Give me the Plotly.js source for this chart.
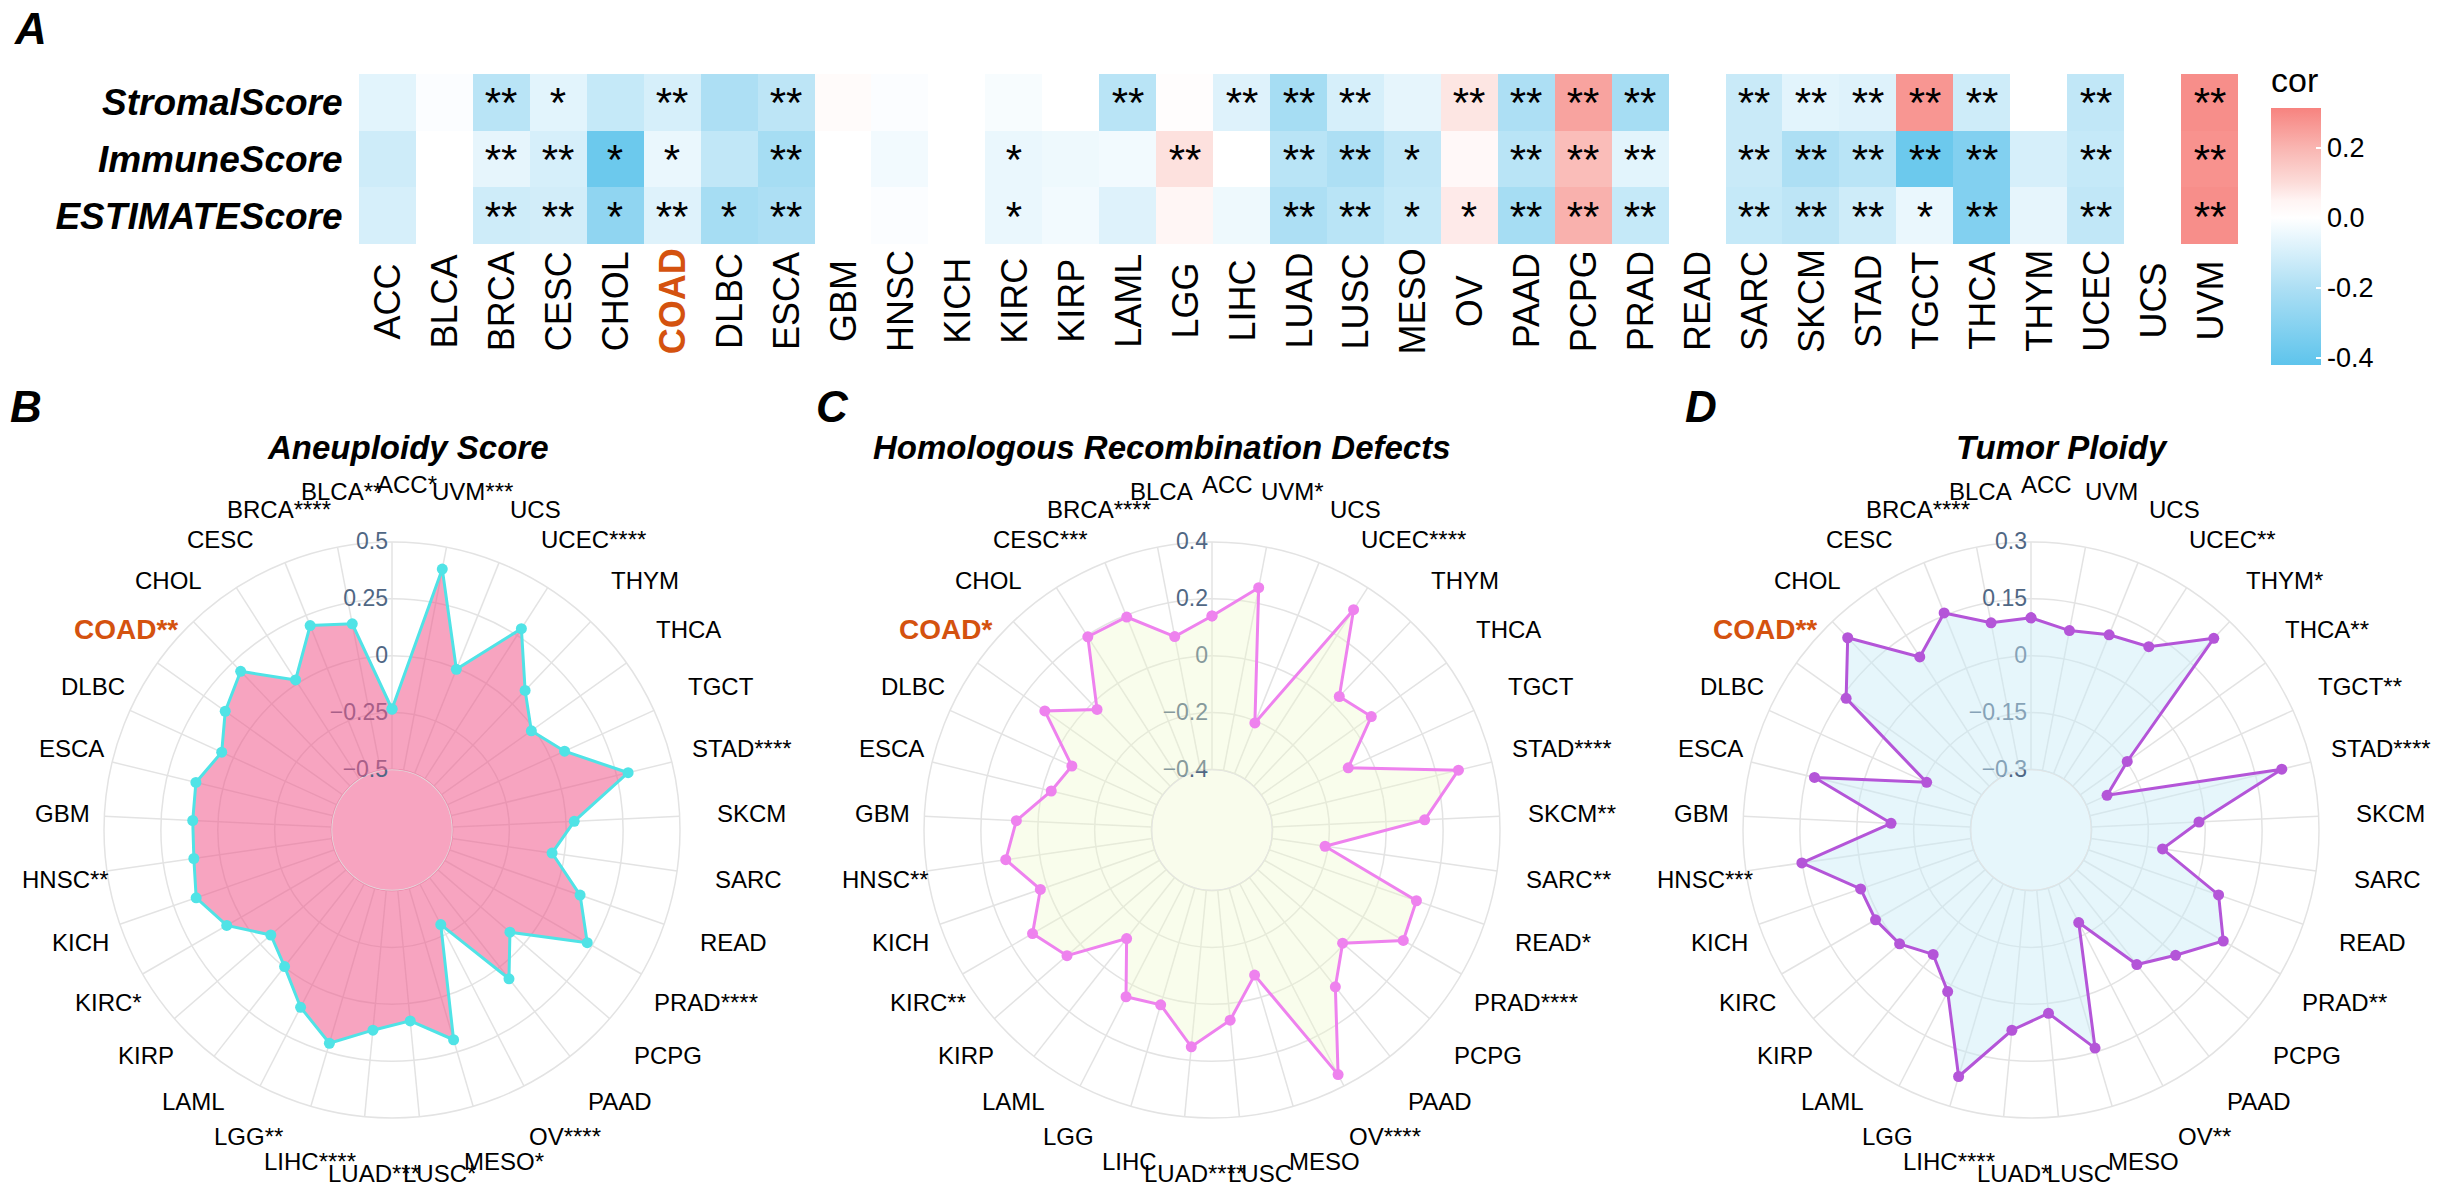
<!DOCTYPE html>
<html>
<head>
<meta charset="utf-8">
<script src="https://cdn.plot.ly/plotly-3.0.1.min.js"></script>
<style>
html,body{margin:0;padding:0;background:#fff;}
#chart{width:2438px;height:1198px;}
</style>
</head>
<body>
<div id="chart"></div>
<script>
// ---------------- DATA ----------------
const cancers = ["ACC","BLCA","BRCA","CESC","CHOL","COAD","DLBC","ESCA","GBM","HNSC","KICH","KIRC","KIRP","LAML","LGG","LIHC","LUAD","LUSC","MESO","OV","PAAD","PCPG","PRAD","READ","SARC","SKCM","STAD","TGCT","THCA","THYM","UCEC","UCS","UVM"];
const scoreNames = ["StromalScore","ImmuneScore","ESTIMATEScore"];

const stromalCor  = [-0.07,-0.01,-0.17,-0.07,-0.14,-0.10,-0.20,-0.16, 0.02,-0.01, 0.00,-0.02, 0.00,-0.17, 0.01,-0.08,-0.22,-0.10,-0.06, 0.08,-0.20, 0.24,-0.22, 0.00,-0.13,-0.07,-0.08, 0.27,-0.12, 0.00,-0.15, 0.00, 0.29];
const immuneCor   = [-0.12, 0.00,-0.06,-0.10,-0.38,-0.05,-0.15,-0.22, 0.00,-0.03, 0.00,-0.05,-0.04,-0.03, 0.09, 0.00,-0.17,-0.20,-0.15, 0.03,-0.17, 0.18,-0.07, 0.00,-0.13,-0.20,-0.17,-0.38,-0.32,-0.10,-0.14, 0.00, 0.28];
const estimateCor = [-0.10, 0.00,-0.12,-0.11,-0.28,-0.08,-0.22,-0.20, 0.00,-0.01, 0.00,-0.05,-0.03,-0.08, 0.04,-0.04,-0.20,-0.17,-0.14, 0.07,-0.22, 0.21,-0.14, 0.00,-0.14,-0.16,-0.12,-0.05,-0.32,-0.06,-0.15, 0.00, 0.29];

const stromalSig  = ["","","**","*","","**","","**","","","","","","**","","**","**","**","","**","**","**","**","","**","**","**","**","**","","**","","**"];
const immuneSig   = ["","","**","**","*","*","","**","","","","*","","","**","","**","**","*","","**","**","**","","**","**","**","**","**","","**","","**"];
const estimateSig = ["","","**","**","*","**","*","**","","","","*","","","","","**","**","*","*","**","**","**","","**","**","**","*","**","","**","","**"];

const corTickVals = [-0.4,-0.2,0.0,0.2];
const corTickText = ["-0.4","-0.2","0.0","0.2"];

// Radar B : Aneuploidy Score
const aneuploidy = [-0.234,0.157,0.202,0.018,0.198,0.134,0.057,0.121,0.111,0.114,0.145,0.073,-0.061,-0.002,0.111,0.211,0.118,0.077,0.195,-0.298,0.066,-0.080,0.225,0.109,-0.055,0.036,0.302,0.068,-0.014,0.082,0.286,-0.005,0.402];
const aneuploidyLabels = ["ACC*","BLCA**","BRCA****","CESC","CHOL","COAD**","DLBC","ESCA","GBM","HNSC**","KICH","KIRC*","KIRP","LAML","LGG**","LIHC****","LUAD***","LUSC*","MESO*","OV****","PAAD","PCPG","PRAD****","READ","SARC","SKCM","STAD****","TGCT","THCA","THYM","UCEC****","UCS","UVM***"];
const aneuploidyTicks = [-0.5,-0.25,0,0.25,0.5];

// Radar C : Homologous Recombination Defects
const hrd = [0.140,0.080,0.194,0.195,-0.027,0.109,-0.071,-0.031,0.076,0.120,0.026,0.116,0.062,-0.127,0.047,0.028,0.153,0.059,-0.081,0.355,0.089,-0.005,0.164,0.148,-0.211,0.136,0.279,-0.086,0.075,0.036,0.308,-0.207,0.255];
const hrdLabels = ["ACC","BLCA","BRCA****","CESC***","CHOL","COAD*","DLBC","ESCA","GBM","HNSC**","KICH","KIRC**","KIRP","LAML","LGG","LIHC","LUAD****","LUSC","MESO","OV****","PAAD","PCPG","PRAD****","READ*","SARC**","SKCM**","STAD****","TGCT","THCA","THYM","UCEC****","UCS","UVM*"];
const hrdTicks = [-0.4,-0.2,0,0.2,0.4];

// Radar D : Tumor Ploidy
const ploidy = [0.100,0.097,0.157,0.083,0.241,0.139,-0.157,0.128,-0.090,0.151,0.016,0.014,-0.001,-0.042,0.020,0.218,0.071,0.026,0.140,-0.185,-0.008,0.045,0.126,0.064,-0.109,-0.016,0.221,-0.239,-0.148,0.239,0.115,0.095,0.076];
const ploidyLabels = ["ACC","BLCA","BRCA****","CESC","CHOL","COAD**","DLBC","ESCA","GBM","HNSC***","KICH","KIRC","KIRP","LAML","LGG","LIHC****","LUAD*","LUSC","MESO","OV**","PAAD","PCPG","PRAD**","READ","SARC","SKCM","STAD****","TGCT**","THCA**","THYM*","UCEC**","UCS","UVM"];
const ploidyTicks = [-0.3,-0.15,0,0.15,0.3];

const highlight = "COAD";

// ---------------- STYLE / LAYOUT ----------------
const W = 2438, H = 1198;
const FONT = "Liberation Sans, Arial, Helvetica, sans-serif";
const ORANGE = "#D4520F";
const GRID = "#E3E3E3";
const px = v => v / W;
const py = v => 1 - v / H;

const zmin = -0.42, zmax = 0.314;
function pos(v){ return (v - zmin) / (zmax - zmin); }
const colorscale = [
  [pos(-0.42), "#5EC4EC"],
  [pos(-0.2),  "#ADDFF4"],
  [pos(-0.05), "#EAF7FD"],
  [pos(0.0),   "#FFFFFF"],
  [pos(0.05),  "#FFF4F3"],
  [pos(0.1),   "#FCDCD9"],
  [pos(0.2),   "#F9B5B1"],
  [pos(0.314), "#F7837F"]
];

const heat = {
  type: "heatmap",
  x: cancers,
  y: scoreNames,
  z: [stromalCor, immuneCor, estimateCor],
  text: [stromalSig, immuneSig, estimateSig],
  texttemplate: "%{text}",
  textfont: {family: FONT, size: 42, color: "#000"},
  colorscale: colorscale,
  zmin: zmin, zmax: zmax,
  xaxis: "x", yaxis: "y",
  hoverinfo: "skip",
  colorbar: {
    x: px(2271), xanchor: "left", xref: "paper",
    y: py(108), yanchor: "top", yref: "paper",
    lenmode: "pixels", len: 257,
    thickness: 50, thicknessmode: "pixels",
    outlinewidth: 0,
    tickmode: "array", tickvals: corTickVals, ticktext: corTickText,
    ticks: "inside", ticklen: 5, tickcolor: "#fff", tickwidth: 1.5,
    tickfont: {family: FONT, size: 27, color: "#000"},
    xpad: 0, ypad: 0
  }
};

function radarTrace(vals, polarId, lineColor, fillColor){
  return {
    type: "scatterpolar",
    subplot: polarId,
    r: vals.concat([vals[0]]),
    theta: cancers.concat([cancers[0]]),
    mode: "lines+markers",
    fill: "toself",
    fillcolor: fillColor,
    line: {color: lineColor, width: 3},
    marker: {color: lineColor, size: 11},
    hoverinfo: "skip",
    showlegend: false
  };
}

const R = 288, CY = 830, HOLE = 0.21;
const LABEL_R = 345, LABEL_DX = 15;   // ring on which category labels are centred
function polarLayout(cx, ticks){
  return {
    domain: {x: [px(cx - R), px(cx + R)], y: [py(CY + R), py(CY - R)]},
    bgcolor: "rgba(0,0,0,0)",
    hole: HOLE,
    radialaxis: {
      range: [ticks[0], ticks[ticks.length-1]],
      tickmode: "array", tickvals: ticks,
      angle: 90, tickangle: 90, side: "counterclockwise",
      showline: false, ticks: "",
      gridcolor: GRID, gridwidth: 1.5,
      tickfont: {family: FONT, size: 23, color: "#506784"},
      layer: "below traces"
    },
    angularaxis: {
      type: "category",
      categoryarray: cancers,
      rotation: 90,
      direction: "counterclockwise",
      showticklabels: false,
      gridcolor: GRID, gridwidth: 1.5,
      linecolor: GRID, linewidth: 1.5, showline: true,
      ticks: "",
      layer: "below traces"
    }
  };
}

function holeShape(cx, fill, line){
  const hr = R * HOLE;
  return {type: "circle", xref: "paper", yref: "paper", layer: "below",
    x0: px(cx - hr), x1: px(cx + hr), y0: py(CY + hr), y1: py(CY - hr),
    fillcolor: fill, line: {color: line, width: 1.5}};
}

const annotations = [];

// category labels around each radar (centred on a ring, same order as the angular axis)
function radarLabels(cx, labels){
  const n = cancers.length;
  labels.forEach((lbl, i) => {
    const th = (90 + i * 360 / n) * Math.PI / 180;
    const hl = lbl.startsWith(highlight);
    annotations.push({
      xref: "paper", yref: "paper",
      x: px(cx + LABEL_DX + LABEL_R * Math.cos(th)),
      y: py(CY - LABEL_R * Math.sin(th)),
      xanchor: "center", yanchor: "middle", showarrow: false,
      text: hl ? "<b>" + lbl + "</b>" : lbl,
      font: {family: FONT, size: hl ? 28 : 24, color: hl ? ORANGE : "#000"}
    });
  });
}
radarLabels(392, aneuploidyLabels);
radarLabels(1212, hrdLabels);
radarLabels(2031, ploidyLabels);

cancers.forEach(c => {
  const hl = c === highlight;
  annotations.push({
    xref: "x", yref: "paper", x: c, y: py(301),
    text: hl ? "<b>" + c + "</b>" : c,
    textangle: -90, showarrow: false,
    xanchor: "center", yanchor: "middle",
    font: {family: FONT, size: 36, color: hl ? ORANGE : "#000"}
  });
});
annotations.push({xref:"paper", yref:"paper", x: px(2269), y: py(80), xanchor:"left", yanchor:"middle",
  text:"cor", showarrow:false, font:{family: FONT, size: 34, color:"#000"}});
[["A",12,28],["B",8,406],["C",814,406],["D",1683,406]].forEach(([t,x,y]) => {
  annotations.push({xref:"paper", yref:"paper", x: px(x), y: py(y), xanchor:"left", yanchor:"middle",
    text:"<b><i>"+t+"</i></b>", showarrow:false, font:{family: FONT, size: 44, color:"#000"}});
});
[["Aneuploidy Score",408],["Homologous Recombination Defects",1162],["Tumor Ploidy",2062]].forEach(([t,x]) => {
  annotations.push({xref:"paper", yref:"paper", x: px(x), y: py(447), xanchor:"center", yanchor:"middle",
    text:"<b><i>"+t+"</i></b>", showarrow:false, font:{family: FONT, size: 33, color:"#000"}});
});

const layout = {
  width: W, height: H,
  margin: {l:0, r:0, t:0, b:0},
  paper_bgcolor: "#fff",
  plot_bgcolor: "#fff",
  showlegend: false,
  font: {family: FONT},
  xaxis: {domain: [px(359), px(2238)], anchor: "y", showticklabels: false, ticks: "", showgrid: false, zeroline: false, showline: false},
  yaxis: {domain: [py(244), py(74)], anchor: "x", autorange: "reversed", showgrid: false, zeroline: false, showline: false,
          ticks: "outside", ticklen: 8, tickcolor: "rgba(0,0,0,0)",
          tickfont: {family: FONT, size: 37, color: "#000", weight: "bold", style: "italic"}},
  polar:  polarLayout(392,  aneuploidyTicks),
  polar2: polarLayout(1212, hrdTicks),
  polar3: polarLayout(2031, ploidyTicks),
  shapes: [
    holeShape(392,  "#F7A4C0", "#EA98B3"),
    holeShape(1212, "#F9FCEC", "#E7EAD9"),
    holeShape(2031, "#E6F6FB", "#D7E7EC")
  ],
  annotations: annotations
};

const data = [
  heat,
  radarTrace(aneuploidy, "polar",  "#50E3E6", "rgba(240,90,140,0.55)"),
  radarTrace(hrd,        "polar2", "#EE82EE", "rgba(238,248,200,0.35)"),
  radarTrace(ploidy,     "polar3", "#B455D8", "rgba(200,236,246,0.45)")
];

Plotly.newPlot("chart", data, layout, {displayModeBar: false, staticPlot: true});
</script>
</body>
</html>
